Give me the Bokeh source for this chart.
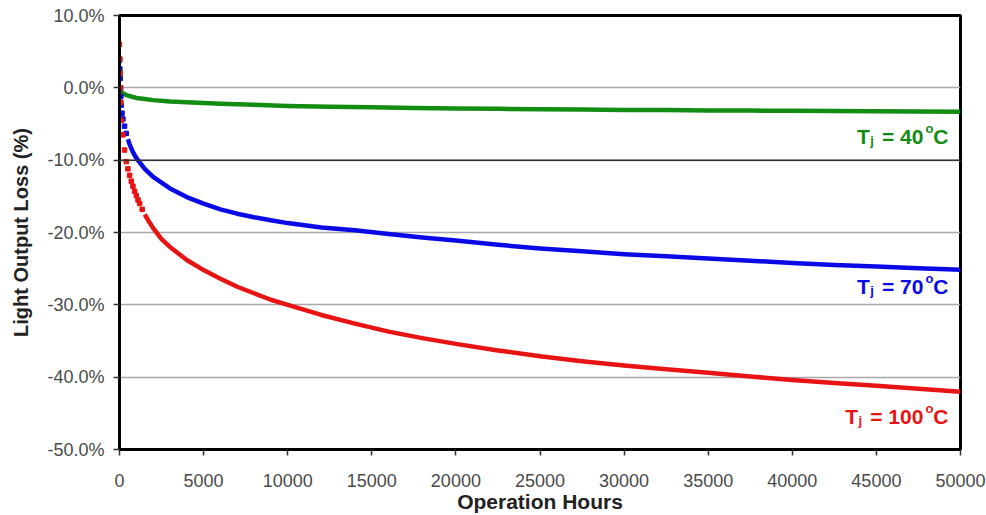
from bokeh.plotting import figure
from bokeh.models import FixedTicker, PrintfTickFormatter, Span, ColumnDataSource
from bokeh.core.properties import value
from bokeh.embed import file_html
from bokeh.resources import INLINE

# ---------------- data ----------------
green_hours = [0, 50, 100, 200, 400, 700, 1000, 1500, 2000, 3000, 4000, 5000, 6000, 8000,
               10000, 12500, 15000, 17500, 20000, 22500, 25000, 27500, 30000, 32500,
               35000, 37500, 40000, 42500, 45000, 47500, 50000]
green_loss = [0.0, -0.3, -0.5, -0.75, -1.0, -1.2, -1.4, -1.55, -1.7, -1.9, -2.0, -2.1, -2.2, -2.35,
              -2.5, -2.6, -2.7, -2.78, -2.85, -2.9, -2.95, -3.0, -3.05, -3.08,
              -3.12, -3.15, -3.18, -3.2, -3.23, -3.26, -3.3]

blue_hours = [0, 20, 40, 60, 80, 100, 150, 200, 300, 400, 500, 600, 800, 1000, 1200, 1500,
              2000, 2500, 3000, 4000, 5000, 6000, 7000, 8000, 9000, 10000, 12000, 14000,
              16000, 18000, 20000, 22500, 25000, 27500, 30000, 32500, 35000, 37500, 40000,
              42500, 45000, 47500, 50000]
blue_loss = [3.8, 2.6, 1.3, 0.0, -1.2, -2.4, -3.5, -4.3, -5.3, -6.3, -7.1, -7.8, -8.9, -9.7, -10.3, -11.2,
             -12.3, -13.1, -13.9, -15.1, -16.0, -16.8, -17.4, -17.9, -18.3, -18.7, -19.3, -19.7,
             -20.2, -20.7, -21.1, -21.7, -22.2, -22.6, -23.0, -23.3, -23.6, -23.9, -24.2,
             -24.5, -24.7, -24.95, -25.15]

red_hours = [0, 20, 40, 60, 80, 100, 200, 300, 400, 500, 600, 700, 800, 900, 1000, 1100, 1200,
             1350, 1500, 1700, 2000, 2500, 3000, 4000, 5000, 6000, 7000, 8000, 9000, 10000,
             12000, 14000, 16000, 18000, 20000, 22500, 25000, 27500, 30000, 32500, 35000,
             37500, 40000, 42500, 45000, 47500, 50000]
red_loss = [6.0, 4.0, 2.0, 0.0, -2.0, -4.5, -6.5, -8.6, -10.2, -11.2, -12.1, -12.9, -13.6, -14.3, -14.9, -15.5, -16.0,
            -16.8, -17.5, -18.3, -19.4, -20.9, -22.0, -23.8, -25.2, -26.4, -27.5, -28.4, -29.3, -30.0,
            -31.4, -32.6, -33.7, -34.6, -35.4, -36.3, -37.1, -37.8, -38.4, -38.9, -39.4,
            -39.9, -40.4, -40.8, -41.2, -41.6, -42.0]

x_ticks = [0, 5000, 10000, 15000, 20000, 25000, 30000, 35000, 40000, 45000, 50000]
y_ticks = [-50, -40, -30, -20, -10, 0, 10]

series = [
    # (hours, loss, colour, label number, hours from which the curve is continuous, label baseline)
    (green_hours, green_loss, "#128c12", "40", 0, -6.75),
    (blue_hours, blue_loss, "#0a0ae6", "70", 500, -27.5),
    (red_hours, red_loss, "#e81414", "100", 1500, -45.45),
]

FONT = "Liberation Sans"

p = figure(width=986, height=515, output_backend="svg", toolbar_location=None,
           x_range=(0, 50000), y_range=(-50, 10),
           min_border_left=119, min_border_right=26, min_border_top=15, min_border_bottom=66,
           background_fill_color="white", border_fill_color="white")

p.outline_line_color = "black"
p.outline_line_width = 3

p.xgrid.visible = False
p.ygrid.grid_line_color = "#a8a8a8"
p.ygrid.grid_line_width = 1.5
p.add_layout(Span(location=-10, dimension="width", line_color="#303030", line_width=1.5))

for ax in (p.xaxis[0], p.yaxis[0]):
    ax.axis_line_color = "black"
    ax.axis_line_width = 3
    ax.major_tick_line_color = "#333333"
    ax.major_tick_line_width = 1.5
    ax.major_tick_out = 6
    ax.major_tick_in = 0
    ax.minor_tick_line_color = None
    ax.major_label_text_font = FONT
    ax.major_label_text_font_size = "18px"
    ax.major_label_text_color = "#4a4a4a"
    ax.axis_label_text_font = FONT
    ax.axis_label_text_font_style = "bold"
    ax.axis_label_text_color = "#222222"

p.xaxis.ticker = FixedTicker(ticks=x_ticks)
p.yaxis.ticker = FixedTicker(ticks=y_ticks)
p.yaxis.formatter = PrintfTickFormatter(format="%.1f%%")
p.xaxis.major_label_standoff = 18
p.yaxis.major_label_standoff = 9
p.xaxis.axis_label = "Operation Hours"
p.xaxis.axis_label_text_font_size = "21px"
p.xaxis.axis_label_standoff = 0
p.yaxis.axis_label = "Light Output Loss (%)"
p.yaxis.axis_label_text_font_size = "20px"
p.yaxis.axis_label_standoff = 12

# approximate bold Arial advance widths (em)
W = {"=": 0.584, " ": 0.278, "0": 0.556, "1": 0.556, "4": 0.556, "7": 0.556,
     "T": 0.611, "j": 0.278, "o": 0.611, "C": 0.722}


def width(s, size):
    return sum(W[c] for c in s) * size


for hours, loss, color, num, cont_from, lab_y in series:
    early = ColumnDataSource(dict(x=[h for h in hours if h < cont_from],
                                  y=[v for h, v in zip(hours, loss) if h < cont_from]))
    p.scatter("x", "y", source=early, marker="square", size=4.5, color=color)
    cont = ColumnDataSource(dict(x=[h for h in hours if h >= cont_from],
                                 y=[v for h, v in zip(hours, loss) if h >= cont_from]))
    p.line("x", "y", source=cont, line_width=4.5, color=color, line_join="round")

    # label "T_j = NN °C" built from pieces
    big, small = 21, 13
    right = -12
    pieces = []
    pieces.append(("C", big, right, 0))
    o_right = right - width("C", big)
    pieces.append(("o", small, o_right, -8))
    num_txt = "= " + num
    num_right = o_right - 10
    pieces.append((num_txt, big, num_right, 0))
    j_right = num_right - width(num_txt, big) - 8
    pieces.append(("j", small, j_right, 4))
    t_right = j_right - width("j", small) - 0.5
    pieces.append(("T", big, t_right, 0))
    for txt, size, xo, yo in pieces:
        p.text(x=[50000], y=[lab_y], text=[txt], text_align="right", text_baseline="alphabetic",
               x_offset=xo, y_offset=yo, text_color=color, text_font=value(FONT),
               text_font_style="bold", text_font_size=f"{size}px")

open("out.html", "w").write(file_html(p, INLINE))
